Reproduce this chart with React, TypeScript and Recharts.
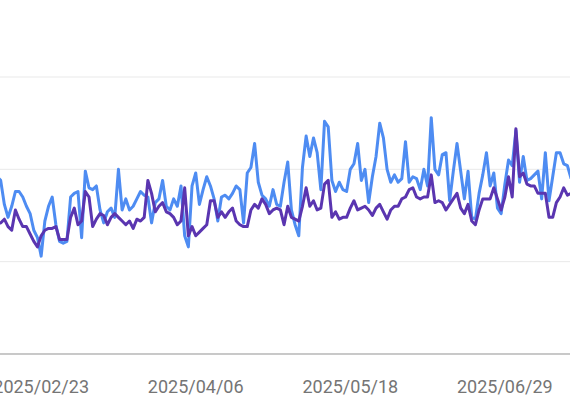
import React from 'react';
import { LineChart, Line, XAxis, YAxis, CartesianGrid } from 'recharts';

// daily series, 2025/02/11 .. 2025/07/17
const START_DATE = Date.UTC(2025, 1, 11);

const clicks = [
    96,
    94, 81, 74, 80, 88, 88, 85, 80, 76, 67, 63, 53, 72, 80, 85, 70, 61, 60, 61, 85, 87, 88, 63, 99, 90, 89, 91, 78, 71, 77, 79, 74,
    100, 78, 84, 78, 80, 84, 88, 86, 85, 71, 82, 84, 94, 80, 78, 84, 80, 91, 64, 58, 91, 98, 81, 89, 96, 91, 84, 72, 85, 86, 84,
    87, 91, 89, 71, 98, 101, 114, 93, 86, 84, 80, 89, 81, 80, 93, 104, 78, 70, 64, 101, 118, 107, 117, 109, 89, 126, 123, 94, 88, 93, 89,
    88, 100, 103, 114, 94, 100, 82, 96, 107, 125, 117, 100, 93, 97, 93, 95, 115, 93, 96, 95, 89, 100, 91, 128, 100, 97, 108, 109, 83, 99, 114,
    99, 84, 99, 74, 73, 87, 97, 109, 91, 98, 79, 76, 92, 105, 102, 121, 93, 107, 94, 95, 97, 99, 84, 109, 83, 96, 109, 109, 103, 102, 95,
];

const impressions = [
    71,
    71, 73, 69, 67, 78, 73, 69, 69, 65, 61, 58, 64, 67, 68, 68, 69, 62, 62, 62, 74, 79, 70, 72, 88, 85, 69, 73, 76, 75, 70, 74, 76,
    74, 72, 70, 72, 68, 73, 72, 74, 94, 87, 77, 80, 82, 77, 76, 74, 70, 72, 90, 64, 69, 64, 66, 68, 70, 83, 83, 74, 77, 74, 77,
    79, 72, 70, 69, 69, 78, 81, 79, 84, 81, 76, 78, 79, 78, 70, 80, 74, 73, 72, 80, 90, 80, 83, 78, 79, 92, 94, 74, 77, 73, 74,
    74, 79, 83, 78, 79, 80, 78, 75, 79, 81, 77, 73, 78, 80, 80, 84, 85, 89, 90, 85, 84, 85, 85, 97, 82, 83, 82, 78, 81, 84, 87,
    79, 76, 81, 72, 70, 78, 84, 84, 84, 90, 84, 78, 85, 96, 85, 122, 96, 98, 92, 91, 91, 87, 87, 87, 74, 74, 82, 85, 90, 86, 87,
];

const xTicks = ['2025/02/23', '2025/04/06', '2025/05/18', '2025/06/29'];
const yTicks = [0, 50, 100, 150];

const fmtDate = (ms: number) => {
    const d = new Date(ms);
    const mm = String(d.getUTCMonth() + 1).padStart(2, '0');
    const dd = String(d.getUTCDate()).padStart(2, '0');
    return `${d.getUTCFullYear()}/${mm}/${dd}`;
};

const dates = clicks.map((_, i) => fmtDate(START_DATE + i * 86400000));

const chartData = dates.map((date, i) => ({
    date,
    clicks: clicks[i],
    impressions: impressions[i],
}));

const App: React.FC = () => {
    return (
        <div style={{ position: 'absolute', left: 0, top: 0, width: 570, height: 420, overflow: 'hidden', background: '#fff' }}>
            <div style={{ position: 'absolute', left: -12.7, top: 0 }}>
                <LineChart width={584.1} height={420} data={chartData} margin={{ top: 77, right: 0, left: 10, bottom: 0 }}>
                    <CartesianGrid vertical={false} stroke="#e9e9e9" />
                    <XAxis
                        dataKey="date"
                        ticks={xTicks}
                        interval={0}
                        height={66}
                        tickLine={false}
                        tickMargin={20}
                        axisLine={{ stroke: '#9e9e9e' }}
                        tick={{ fill: '#757575', fontSize: 18, fontFamily: 'Roboto' }}
                    />
                    <YAxis hide domain={[0, 150]} ticks={yTicks} />
                    <Line
                        type="linear"
                        dataKey="clicks"
                        stroke="#4e8cf2"
                        strokeWidth={3}
                        dot={false}
                        strokeLinejoin="round"
                        isAnimationActive={false}
                    />
                    <Line
                        type="linear"
                        dataKey="impressions"
                        stroke="#5a35b0"
                        strokeWidth={3}
                        dot={false}
                        strokeLinejoin="round"
                        isAnimationActive={false}
                    />
                </LineChart>
            </div>
        </div>
    );
};

export default App;
